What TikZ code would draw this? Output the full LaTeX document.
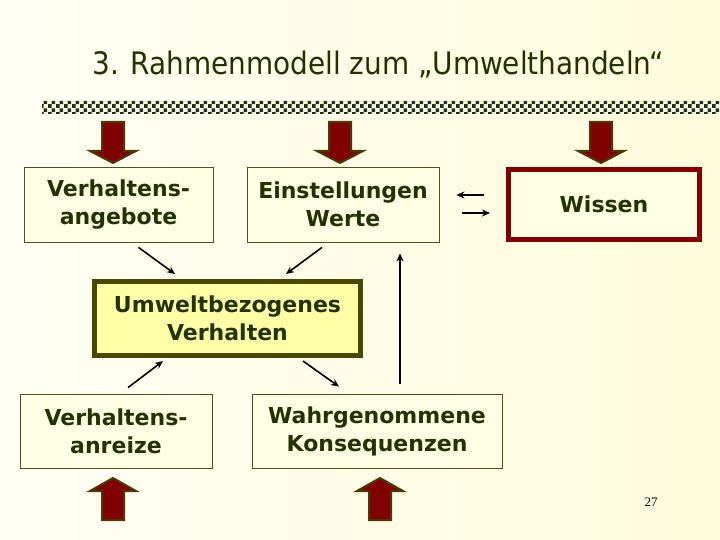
\documentclass[tikz,border=0pt]{standalone}
\usepackage{fontspec}
\setmainfont{DejaVu Sans}
\newfontfamily\titlefont{DejaVu Sans Condensed}
\newfontfamily\numfont{Liberation Serif}
\usetikzlibrary{arrows.meta,patterns}

\definecolor{txtgreen}{RGB}{34,51,0}
\definecolor{boxfill}{RGB}{255,255,230}
\definecolor{boxline}{RGB}{80,80,30}
\definecolor{wissenred}{RGB}{128,0,0}
\definecolor{verhfill}{RGB}{255,255,168}
\definecolor{verhline}{RGB}{72,72,0}
\definecolor{arrowred}{RGB}{128,0,0}
\definecolor{arrowline}{RGB}{74,58,0}
\definecolor{bgleft}{RGB}{255,255,244}
\definecolor{bgright}{RGB}{255,251,220}

\pgfdeclarepatternformonly{bigchecker}{\pgfpointorigin}{\pgfqpoint{8pt}{8pt}}{\pgfqpoint{8pt}{8pt}}{%
\pgfpathrectangle{\pgfpointorigin}{\pgfqpoint{4.05pt}{4.05pt}}%
\pgfpathrectangle{\pgfqpoint{4pt}{4pt}}{\pgfqpoint{4.05pt}{4.05pt}}%
\pgfusepath{fill}}

\begin{document}
\begin{tikzpicture}[x=1pt,y=-1pt,
box/.style={draw=boxline,fill=boxfill,line width=0.8pt,minimum width=#1,minimum height=75pt,
inner sep=0pt,align=center,text=txtgreen,font=\fontsize{22}{28}\selectfont\bfseries},
box/.default=190pt,
link/.style={-{Stealth[length=8pt,width=7pt]},line width=1.6pt,draw=black},
fatarrow/.style={fill=arrowred,draw=arrowline,line width=2pt,line join=miter}]
\useasboundingbox (0,0) rectangle (720,540);
\shade[left color=bgleft,right color=bgright] (0,0) rectangle (720,540);
\node[anchor=base west,text=txtgreen,font=\titlefont\fontsize{31}{34}\selectfont] (titel) at (89,75) {3. Rahmenmodell zum „Umwelthandeln“};
\fill[white] (42,102) rectangle (720,114);
\fill[pattern=bigchecker,pattern color=txtgreen] (42,102) rectangle (720,114);
% boxes
\node[box=189pt] (angebote) at (118.5,204.5) {Verhaltens-\\angebote};
\node[box=192pt] (einstellungen) at (343,204.5) {Einstellungen\\Werte};
\node[box=191pt,draw=wissenred,line width=5pt,minimum height=70pt] (wissen) at (604,204.5) {Wissen};
\node[box=266pt,draw=verhline,fill=verhfill,line width=5pt,minimum height=74pt] (verhalten) at (227.5,318.5) {Umweltbezogenes\\Verhalten};
\node[box=192pt,minimum height=74pt] (anreize) at (116,431) {Verhaltens-\\anreize};
\node[box=250pt,minimum height=74pt] (konsequenzen) at (377,431) {Wahrgenommene\\Konsequenzen};
% connectors
\draw[link] ([xshift=20pt,yshift=-5pt]angebote.south)--([xshift=-52.5pt,yshift=5pt]verhalten.north);
\draw[link] ([xshift=-21pt,yshift=-5pt]einstellungen.south)--([xshift=58.5pt,yshift=5pt]verhalten.north);
\draw[link] ([xshift=12pt,yshift=6pt]anreize.north)--([xshift=-64.5pt,yshift=-3pt]verhalten.south);
\draw[link] ([xshift=75.5pt,yshift=-3pt]verhalten.south)--([xshift=-38pt,yshift=7pt]konsequenzen.north);
\draw[link] ([xshift=23pt,yshift=10pt]konsequenzen.north)--([xshift=57pt,yshift=-11pt]einstellungen.south);
\draw[link] ([xshift=-22pt,yshift=9.5pt]wissen.west)--([xshift=17pt,yshift=9.5pt]einstellungen.east);
\draw[link] ([xshift=23pt,yshift=-8.5pt]einstellungen.east)--([xshift=-16pt,yshift=-8.5pt]wissen.west);
% fat arrows
\foreach \x in {113,340,601}
\draw[fatarrow] (\x-11,122)--(\x+11,122)--(\x+11,151)--(\x+23,151)--(\x,163)--(\x-23,151)--(\x-11,151)--cycle;
\foreach \x in {113,380}
\draw[fatarrow] (\x,478)--(\x+23,491)--(\x+11,491)--(\x+11,520)--(\x-11,520)--(\x-11,491)--(\x-23,491)--cycle;
\node[font=\numfont\fontsize{13}{15}\selectfont] (seite) at (651,502) {27};
\end{tikzpicture}
\end{document}
